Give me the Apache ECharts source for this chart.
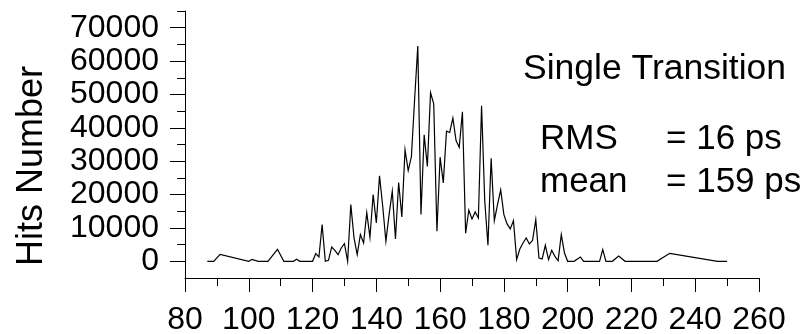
<!DOCTYPE html>
<html>
<head>
<meta charset="utf-8">
<script src="https://cdn.jsdelivr.net/npm/echarts@6/dist/echarts.min.js"></script>
<style>
  html, body { margin: 0; padding: 0; background: #fff; }
  #chart { width: 811px; height: 334px; }
</style>
</head>
<body>
<div id="chart"></div>
<script>
// bin positions (ps) and hit counts
const binX = [
  87, 89, 91, 100, 101, 103, 106, 109, 111, 114, 115, 116, 120,
  121, 122, 123, 124, 125, 126, 127, 128, 129, 130,
  131, 132, 133, 134, 135, 136, 137, 138, 139, 140,
  141, 142, 143, 144, 145, 146, 147, 148, 149, 150,
  151, 152, 153, 154, 155, 156, 157, 158, 159, 160,
  161, 162, 163, 164, 165, 166, 167, 168, 169, 170,
  171, 172, 173, 174, 175, 176, 177, 178, 179, 180,
  181, 182, 183, 184, 185, 186, 187, 188, 189, 190,
  191, 192, 193, 194, 195, 196, 197, 198, 199, 200,
  202, 204, 205, 210, 211, 212, 214, 216, 218, 228, 232, 247, 250
];
const hits = [
  0, 0, 2100, 0, 600, 0, 0, 3600, 0, 0, 600, 0, 0,
  2300, 1300, 11000, 0, 300, 4300, 3300, 2000, 4000, 5300,
  0, 17000, 7000, 2000, 8000, 5500, 14600, 7200, 20000, 11500,
  25600, 16500, 6000, 14000, 21000, 6700, 23600, 13300, 33400, 27200,
  31400, 48400, 64500, 14000, 37900, 28400, 50500, 47200, 9000, 31200,
  23500, 39000, 38600, 42900, 36200, 34200, 44800, 8400, 15300, 12700,
  14800, 13000, 46600, 18000, 4800, 30900, 12200, 17000, 21400, 14000,
  11200, 9700, 12200, 500, 3700, 5500, 7000, 5200, 6300, 12500,
  1000, 700, 4800, 500, 3300, 1500, 200, 8000, 2500, 0,
  0, 1300, 0, 0, 3500, 0, 0, 1600, 0, 0, 2400, 0, 0
];

// axis tick values
const xMajorTicks = [80, 100, 120, 140, 160, 180, 200, 220, 240, 260];
const xMinorTicks = [90, 110, 130, 150, 170, 190, 210, 230, 250];
const yMajorTicks = [0, 10000, 20000, 30000, 40000, 50000, 60000, 70000];
const yMinorTicks = [5000, 15000, 25000, 35000, 45000, 55000, 65000, 75000];

const FONT = 'Arial, "Liberation Sans", sans-serif';

const chart = echarts.init(document.getElementById('chart'));

const axisBase = {
  type: 'value',
  splitLine: { show: false },
};

chart.setOption({
  animation: false,
  backgroundColor: '#fff',
  grid: {
    left: 185, right: 52, top: 11, bottom: 56,
    containLabel: false,
    outerBoundsMode: 'none',
  },
  xAxis: [
    {
      ...axisBase,
      position: 'bottom',
      min: 80, max: 260,
      axisLine: { show: true, onZero: false, lineStyle: { color: '#000', width: 1 } },
      axisTick: { show: true, customValues: xMajorTicks, length: 14, lineStyle: { color: '#000' } },
      axisLabel: {
        customValues: xMajorTicks,
        formatter: (v) => String(v),
        color: '#000', fontFamily: FONT, fontSize: 32, margin: 26,
      },
    },
    {
      ...axisBase,
      position: 'bottom',
      min: 80, max: 260,
      axisLine: { show: false, onZero: false },
      axisTick: { show: true, customValues: xMinorTicks, length: 8, lineStyle: { color: '#000' } },
      axisLabel: { show: false },
    },
  ],
  yAxis: [
    {
      ...axisBase,
      position: 'left',
      min: -5000, max: 75000,
      axisLine: { show: true, onZero: false, lineStyle: { color: '#000', width: 1 } },
      axisTick: { show: true, customValues: yMajorTicks, length: 15, lineStyle: { color: '#000' } },
      axisLabel: {
        customValues: yMajorTicks,
        formatter: (v) => String(v),
        color: '#000', fontFamily: FONT, fontSize: 32, margin: 26,
      },
    },
    {
      ...axisBase,
      position: 'left',
      min: -5000, max: 75000,
      axisLine: { show: false, onZero: false },
      axisTick: { show: true, customValues: yMinorTicks, length: 8, lineStyle: { color: '#000' } },
      axisLabel: { show: false },
    },
  ],
  graphic: [
    {
      type: 'text', x: 32, y: 166, rotation: Math.PI / 2,
      style: { text: 'Hits Number', font: '36px ' + FONT, fill: '#000', align: 'center', verticalAlign: 'middle' },
    },
    {
      type: 'text', x: 523, y: 69,
      style: { text: 'Single Transition', font: '35.5px ' + FONT, fill: '#000', align: 'left', verticalAlign: 'middle' },
    },
    {
      type: 'text', x: 540, y: 139,
      style: { text: 'RMS', font: '35px ' + FONT, fill: '#000', align: 'left', verticalAlign: 'middle' },
    },
    {
      type: 'text', x: 666, y: 139,
      style: { text: '= 16 ps', font: '35px ' + FONT, fill: '#000', align: 'left', verticalAlign: 'middle' },
    },
    {
      type: 'text', x: 540, y: 182,
      style: { text: 'mean', font: '35px ' + FONT, fill: '#000', align: 'left', verticalAlign: 'middle' },
    },
    {
      type: 'text', x: 666, y: 182,
      style: { text: '= 159 ps', font: '35px ' + FONT, fill: '#000', align: 'left', verticalAlign: 'middle' },
    },
  ],
  series: [
    {
      type: 'line',
      xAxisIndex: 0,
      yAxisIndex: 0,
      data: binX.map((x, i) => [x, hits[i]]),
      showSymbol: false,
      symbol: 'none',
      lineStyle: { color: '#000', width: 1.2, join: 'miter' },
      z: 3,
    },
  ],
});
</script>
</body>
</html>
